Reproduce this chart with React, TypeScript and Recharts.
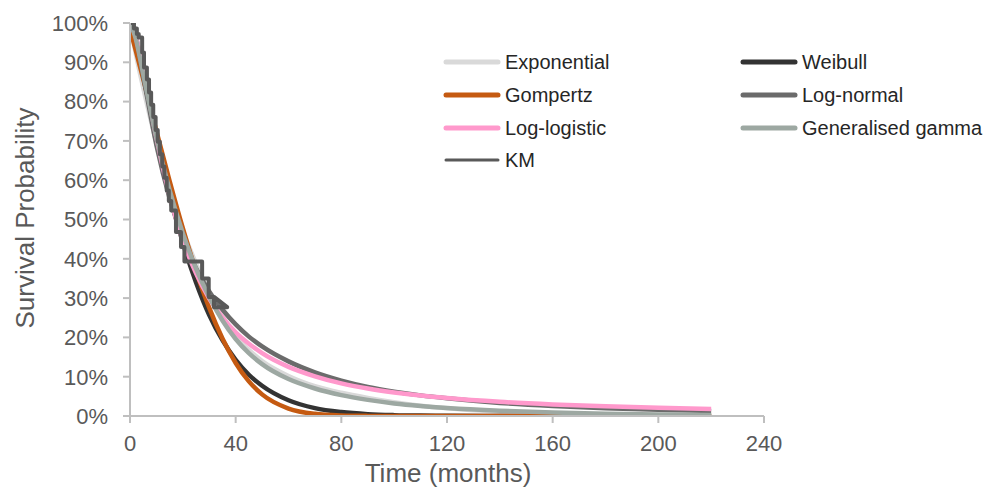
import { LineChart, Line, XAxis, YAxis } from 'recharts';

const modelTime = [0, 2, 5, 10, 15, 20, 25, 30, 35, 40, 45, 50, 60, 70, 80, 90, 100, 110, 120, 140, 160, 180, 200, 220];

// survival (%) per model, same order as modelTime
const exponential = [100, 92.8, 83.5, 69.5, 57.5, 47.2, 38.8, 31.5, 25.4, 20.4, 16.8, 14.0, 10.2, 7.6, 5.9, 4.6, 3.5, 2.6, 1.95, 1.1, 0.6, 0.33, 0.18, 0.1];
const weibull = [100, 95.5, 86.6, 70.9, 56.6, 44.1, 34.0, 25.7, 19.3, 14.3, 10.5, 7.7, 4.0, 2.0, 1.0, 0.47, 0.22, 0.1, 0.05, 0.01, 0, 0, 0, 0];
const gompertz = [98.5, 93.5, 85.8, 72.5, 59.8, 47.8, 36.9, 27.5, 19.7, 13.5, 8.8, 5.5, 1.9, 0.55, 0.14, 0.03, 0, 0, 0, 0, 0, 0, 0, 0];
const logNormal = [100, 97.2, 86.5, 68.9, 55.4, 45.3, 37.6, 31.7, 27.1, 23.3, 20.2, 17.7, 13.9, 11.1, 9.0, 7.4, 6.2, 5.25, 4.5, 3.33, 2.55, 1.99, 1.59, 1.28];
const logLogistic = [100, 96.9, 87.9, 70.8, 56.1, 44.7, 36.3, 29.9, 25.1, 21.3, 18.4, 16.0, 12.5, 10.1, 8.3, 7.0, 6.0, 5.2, 4.57, 3.61, 2.94, 2.46, 2.09, 1.8];
const genGamma = [100, 96.5, 87, 71, 57.5, 46.5, 37.5, 30.3, 24.3, 19.6, 16.0, 13.2, 9.4, 7.0, 5.3, 4.1, 3.2, 2.55, 2.05, 1.35, 0.9, 0.6, 0.4, 0.27];

// Kaplan-Meier polyline vertices as drawn
const kmTime = [0, 1.5, 1.5, 2.6, 2.6, 3.3, 3.3, 4.6, 4.6, 5.3, 5.3, 6.4, 6.4, 7.2, 7.2, 8.0, 8.0, 8.8, 8.8, 9.7, 9.7, 10.5, 10.5, 11.3, 11.3, 12.2, 12.2, 13.0, 13.0, 13.9, 13.9, 14.7, 14.7, 15.6, 15.6, 17.4, 17.4, 19.3, 19.3, 20.6, 20.6, 27.3, 27.3, 29.8, 29.8, 31.8, 31.8, 36.8, 31.8];
const kmSurv = [100, 100, 98.6, 98.6, 97.2, 97.2, 96.3, 96.3, 92.5, 92.5, 88.7, 88.7, 85.6, 85.6, 82.3, 82.3, 79.2, 79.2, 76.1, 76.1, 72.8, 72.8, 69.8, 69.8, 66.6, 66.6, 63.5, 63.5, 60.6, 60.6, 57.4, 57.4, 54.7, 54.7, 52.3, 52.3, 46.8, 46.8, 43.0, 43.0, 39.3, 39.3, 35.0, 35.0, 30.3, 30.3, 27.7, 27.7, 30.3];

const xTicks = [0, 40, 80, 120, 160, 200, 240];
const yTicks = [0, 10, 20, 30, 40, 50, 60, 70, 80, 90, 100];

const series = [
  { key: 'exp', name: 'Exponential', color: '#D9D9D9', values: exponential },
  { key: 'wei', name: 'Weibull', color: '#333333', values: weibull },
  { key: 'gom', name: 'Gompertz', color: '#C55A11', values: gompertz },
  { key: 'lnorm', name: 'Log-normal', color: '#6B6B6B', values: logNormal },
  { key: 'llog', name: 'Log-logistic', color: '#FF99CC', values: logLogistic },
  { key: 'gg', name: 'Generalised gamma', color: '#9DA8A2', values: genGamma },
];
const kmColor = '#595959';

const FONT = '"Liberation Sans", Arial, sans-serif';
const AXIS = '#BFBFBF';
const LABEL = '#595959';

const modelData = modelTime.map((t, i) => {
  const row: Record<string, number> = { t };
  series.forEach((s) => {
    row[s.key] = s.values[i];
  });
  return row;
});
const kmData = kmTime.map((t, i) => ({ t, km: kmSurv[i] }));

function XTitle() {
  return (
    <text x={448} y={482} textAnchor="middle" fill={LABEL} fontSize={26}>
      Time (months)
    </text>
  );
}

function YTitle() {
  return (
    <text
      x={34}
      y={218}
      textAnchor="middle"
      fill={LABEL}
      fontSize={26}
      transform="rotate(-90, 34, 218)"
    >
      Survival Probability
    </text>
  );
}

function ChartLegend() {
  const cols = [446, 743];
  const rows = [62, 95, 128, 160];
  const items = [...series.map((s) => ({ name: s.name, color: s.color, w: 5 })), { name: 'KM', color: kmColor, w: 3 }];
  return (
    <svg
      width={1005}
      height={490}
      style={{ position: 'absolute', left: 0, top: 0, pointerEvents: 'none' }}
    >
      {items.map((it, i) => {
        const x = cols[i % 2];
        const y = rows[Math.floor(i / 2)];
        return (
          <g key={it.name}>
            <line x1={x} x2={x + 52} y1={y} y2={y} stroke={it.color} strokeWidth={it.w} strokeLinecap="round" />
            <text x={x + 59} y={y} dy="0.35em" fontSize={20} fill="#262626" fontFamily={FONT}>
              {it.name}
            </text>
          </g>
        );
      })}
    </svg>
  );
}

export default function App() {
  return (
    <div
      style={{
        position: 'absolute',
        left: 0,
        top: 0,
        width: 1005,
        height: 490,
        background: '#fff',
        fontFamily: FONT,
      }}
    >
      <LineChart width={1005} height={490} margin={{ top: 23, right: 241, bottom: 0, left: 0 }}>
        <XAxis
          type="number"
          dataKey="t"
          domain={[0, 240]}
          ticks={xTicks}
          height={74}
          tickSize={7}
          tickMargin={12}
          axisLine={{ stroke: AXIS, strokeWidth: 2 }}
          tickLine={{ stroke: AXIS, strokeWidth: 2 }}
          tick={{ fill: LABEL, fontSize: 22 }}
          label={<XTitle />}
          allowDataOverflow
        />
        <YAxis
          type="number"
          domain={[0, 100]}
          ticks={yTicks}
          width={130}
          tickSize={7}
          tickMargin={15}
          axisLine={{ stroke: AXIS, strokeWidth: 2 }}
          tickLine={{ stroke: AXIS, strokeWidth: 2 }}
          tick={{ fill: LABEL, fontSize: 22 }}
          tickFormatter={(v: number) => `${v}%`}
          label={<YTitle />}
          allowDataOverflow
        />
        {series.map((s) => (
          <Line
            key={s.key}
            data={modelData}
            dataKey={s.key}
            name={s.name}
            type="monotone"
            stroke={s.color}
            strokeWidth={4.5}
            strokeLinejoin="round"
            dot={false}
            activeDot={false}
            isAnimationActive={false}
          />
        ))}
        <Line
          data={kmData}
          dataKey="km"
          name="KM"
          type="linear"
          stroke={kmColor}
          strokeWidth={4}
          strokeLinejoin="round"
          dot={false}
          activeDot={false}
          isAnimationActive={false}
        />
      </LineChart>
      <ChartLegend />
    </div>
  );
}
